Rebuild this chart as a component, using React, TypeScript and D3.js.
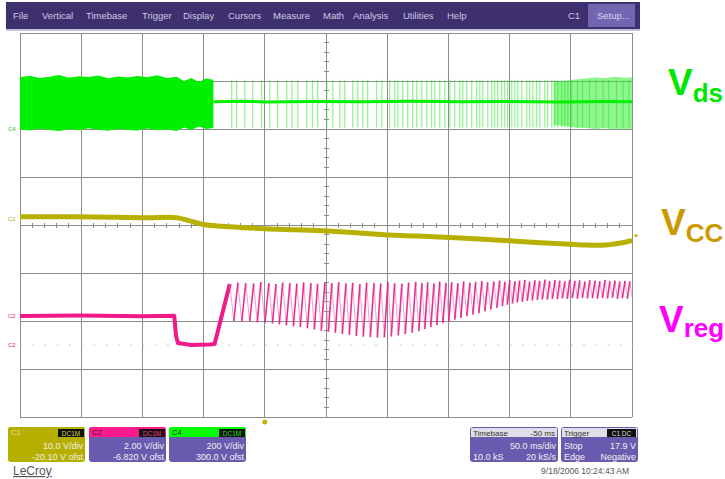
import React from "react";
import * as d3 from "d3";

// ---------- layout ----------
const W = 725;
const H = 479;
const PLOT = { left: 20, right: 632, top: 33, bottom: 417 };
const FONT = "'Liberation Sans', Arial, Helvetica, sans-serif";

// ---------- axes (scope settings) ----------
// time in ms, trigger at 0, 50 ms/div, delay -50 ms
const timeDomain = [-200, 300];
const timeGridTicks = [-200, -150, -100, -50, 0, 50, 100, 150, 200, 250, 300];
const divGridLevels = [0, 1, 2, 3, 4, 5, 6, 7, 8];

const vccVoltsPerDiv = 10;
const vccOffset = -20.1;
const vregVoltsPerDiv = 2;
const vregOffset = -6.82;
const vdsVoltsPerDiv = 200;
const vdsOffset = 300;

// ---------- Vcc (C1) ----------
const vccTime = [-200, -160, -120, -95, -80, -72, -62, -50, -38, -20, 0, 25, 51, 75, 102, 125, 151, 175, 200, 225, 249, 262, 274, 284, 292, 300];
const vccVolts = [21.8, 21.8, 21.7, 21.6, 21.7, 21.6, 21.0, 20.2, 19.9, 19.6, 19.3, 19.1, 18.85, 18.5, 18.0, 17.8, 17.5, 17.2, 16.8, 16.4, 16.1, 15.95, 15.9, 16.1, 16.4, 16.9];

// ---------- Vreg (C2) ----------
const vregLeadTime = [-200, -150, -100, -74, -72.5, -71, -60, -45, -41];
const vregLeadVolts = [3.03, 3.05, 3.02, 3.04, 2.2, 1.9, 1.82, 1.84, 1.86];
const vregPeakTime = [
  -28.6, -22.0, -15.6, -9.1, -3.2, 3.4, 9.1, 14.6, 20.5, 26.2,
  31.8, 37.7, 43.2, 49.1, 54.8, 60.4, 66.3, 71.8, 77.7, 83.2,
  89.2, 94.7, 100.6, 106.1, 112.0, 117.5, 123.3, 128.4, 133.1, 138.2,
  142.9, 148.0, 152.7, 157.8, 162.5, 167.6, 172.3, 177.4, 182.1, 187.2,
  191.9, 196.2, 200.1, 204.4, 208.2, 212.5, 216.4, 220.7, 224.6, 228.9,
  232.8, 237.1, 241.0, 245.2, 249.1, 253.4, 257.3, 261.6, 265.5, 269.8,
  273.7, 278.0, 281.9, 286.1, 290.0, 294.3, 298.2,
];
const vregPeakVolts = [
  4.36, 4.42, 4.40, 4.38, 4.44, 4.40, 4.36, 4.42, 4.40, 4.38,
  4.43, 4.40, 4.37, 4.42, 4.40, 4.44, 4.38, 4.41, 4.36, 4.42,
  4.40, 4.38, 4.44, 4.40, 4.37, 4.42, 4.45, 4.40, 4.43, 4.38,
  4.46, 4.41, 4.44, 4.40, 4.47, 4.42, 4.45, 4.48, 4.43, 4.46,
  4.50, 4.45, 4.52, 4.47, 4.50, 4.53, 4.46, 4.51, 4.49, 4.54,
  4.48, 4.52, 4.50, 4.47, 4.53, 4.49, 4.51, 4.46, 4.52, 4.50,
  4.48, 4.53, 4.47, 4.50, 4.46, 4.49, 4.47,
];
const vregTroughVolts = [
  2.82, 2.80, 2.79, 2.77, 2.75, 2.72, 2.68, 2.64, 2.60, 2.57,
  2.52, 2.47, 2.42, 2.37, 2.33, 2.28, 2.24, 2.20, 2.17, 2.15,
  2.13, 2.14, 2.18, 2.22, 2.28, 2.33, 2.40, 2.48, 2.57, 2.65,
  2.73, 2.80, 2.88, 2.95, 3.02, 3.09, 3.15, 3.22, 3.30, 3.37,
  3.44, 3.50, 3.55, 3.59, 3.62, 3.66, 3.68, 3.70, 3.72, 3.71,
  3.74, 3.73, 3.76, 3.74, 3.77, 3.75, 3.78, 3.76, 3.77, 3.75,
  3.78, 3.76, 3.79, 3.74, 3.77, 3.75, 3.76,
];

// ---------- Vds (C4) ----------
const vdsBandTime = [-200, -192, -184, -176, -168, -160, -152, -144, -136, -128, -120, -112, -104, -96, -88, -80, -72, -66, -60, -54, -48, -42];
const vdsBandHigh = [316, 322, 312, 318, 325, 314, 320, 317, 323, 311, 319, 315, 321, 316, 324, 313, 318, 300, 312, 296, 310, 305];
const vdsBandLow = [98, 94, 101, 96, 92, 99, 95, 103, 97, 93, 100, 96, 94, 102, 95, 98, 92, 106, 96, 110, 100, 104];
const vdsBaseTime = [-42, -20, 0, 40, 80, 120, 160, 200, 240, 280, 300];
const vdsBaseVolts = [214, 216, 213, 215, 214, 216, 214, 215, 213, 215, 214];
const vdsSpikeTime = [
  -27.0, -22.9, -16.3, -9.8, -2.5, 4.1, 10.6, 18.0, 22.1, 27.0,
  34.3, 39.2, 43.3, 50.7, 55.6, 61.3, 65.4, 71.9, 76.0, 80.1,
  84.1, 91.5, 95.6, 102.1, 106.2, 108.7, 112.7, 116.8, 120.9, 124.2,
  128.3, 132.4, 136.4, 138.9, 143.0, 147.1, 151.2, 155.2, 159.3, 161.8,
  165.0, 169.1, 173.2, 175.7, 178.1, 182.2, 185.5, 187.9, 190.4, 193.6,
  196.1, 198.5, 201.8, 204.3, 206.7, 210.0, 214.1, 216.5, 219.0, 222.2,
  224.7, 228.8, 231.2, 234.5, 236.9, 239.4, 242.6, 245.1, 247.6, 250.8,
  255.5, 259.6, 265.2, 270.6, 276.3, 281.0, 287.4, 292.8, 297.5,
];
const vdsSpikeHigh = 305;
const vdsSpikeLow = 106;
const vdsTailTime = [236, 245, 253, 262, 270, 278, 286, 294, 300];
const vdsTailHigh = [296, 300, 306, 310, 316, 312, 318, 314, 316];
const vdsTailLow = [118, 112, 106, 104, 100, 103, 98, 101, 99];

// ---------- UI text ----------
const menuItems = ["File", "Vertical", "Timebase", "Trigger", "Display", "Cursors", "Measure", "Math", "Analysis", "Utilities", "Help"];
const menuX = [13, 42, 86, 142, 183, 228, 273, 323, 353, 403, 447];

const chanBoxes = [
  { id: "C1", x: 8, head: "#b7af00", body: "#b7af00", tagText: "#d8d040", l1: "10.0 V/div", l2: "-20.10 V ofst" },
  { id: "C2", x: 89, head: "#ff1a8c", body: "#6a5bb0", tagText: "#ff3399", l1: "2.00 V/div", l2: "-6.820 V ofst" },
  { id: "C4", x: 169, head: "#00ff00", body: "#6a5bb0", tagText: "#22dd22", l1: "200 V/div", l2: "300.0 V ofst" },
];

export default function App() {
  const x = d3.scaleLinear().domain(timeDomain).range([PLOT.left, PLOT.right]);
  const yDiv = d3.scaleLinear().domain([0, 8]).range([PLOT.bottom, PLOT.top]);
  const chScale = (vpd: number, offset: number) => {
    const c = -offset;
    return d3.scaleLinear().domain([c - 4 * vpd, c + 4 * vpd]).range([PLOT.bottom, PLOT.top]);
  };
  const yVcc = chScale(vccVoltsPerDiv, vccOffset);
  const yVreg = chScale(vregVoltsPerDiv, vregOffset);
  const yVds = chScale(vdsVoltsPerDiv, vdsOffset);

  const cx = x(50);
  const cy = yDiv(4);

  const vccLine = d3
    .line<number>()
    .x((_, i) => x(vccTime[i]))
    .y((v) => yVcc(v))
    .curve(d3.curveMonotoneX)(vccVolts) as string;

  const leadPts: [number, number][] = vregLeadTime.map((t, i) => [x(t), yVreg(vregLeadVolts[i])]);
  leadPts.push([x(vregPeakTime[0]), yVreg(vregPeakVolts[0])]);
  const leadLine = d3.line()(leadPts) as string;

  const rises: string[] = [];
  const falls: string[] = [];
  for (let i = 0; i < vregPeakTime.length; i++) {
    const tp = vregPeakTime[i];
    const next = i + 1 < vregPeakTime.length ? vregPeakTime[i + 1] : tp + 4.2;
    const tTrough = tp + 0.5 * (next - tp);
    falls.push(`M${x(tp)},${yVreg(vregPeakVolts[i])}L${x(tTrough)},${yVreg(vregTroughVolts[i])}`);
    if (i + 1 < vregPeakTime.length) {
      rises.push(`M${x(tTrough)},${yVreg(vregTroughVolts[i])}L${x(next)},${yVreg(vregPeakVolts[i + 1])}`);
    }
  }

  const bandArea = d3
    .area<number>()
    .x((_, i) => x(vdsBandTime[i]))
    .y0((_, i) => yVds(vdsBandLow[i]))
    .y1((_, i) => yVds(vdsBandHigh[i]))(vdsBandTime) as string;
  const tailArea = d3
    .area<number>()
    .x((_, i) => x(vdsTailTime[i]))
    .y0((_, i) => yVds(vdsTailLow[i]))
    .y1((_, i) => yVds(vdsTailHigh[i]))
    .curve(d3.curveMonotoneX)(vdsTailTime) as string;
  const baseLine = d3
    .line<number>()
    .x((_, i) => x(vdsBaseTime[i]))
    .y((v) => yVds(v))(vdsBaseVolts) as string;

  const hTicks = d3.range(-200, 300.1, 10);
  const vTicks = d3.range(0, 8.01, 0.2);

  return (
    <svg
      width={W}
      height={H}
      viewBox={`0 0 ${W} ${H}`}
      style={{ position: "absolute", left: 0, top: 0, display: "block", background: "#fff" }}
      fontFamily={FONT}
    >
      <defs>
        <clipPath id="plotClip">
          <rect x={PLOT.left} y={PLOT.top} width={PLOT.right - PLOT.left} height={PLOT.bottom - PLOT.top} />
        </clipPath>
      </defs>
      <rect x={0} y={0} width={W} height={H} fill="#fff" />

      {/* menu bar */}
      <rect x={6} y={2} width={634} height={27} fill="#3e306f" />
      <line x1={6} x2={640} y1={30} y2={30} stroke="#c4c0d8" strokeWidth={2} />
      {menuItems.map((m, i) => (
        <text key={m} x={menuX[i]} y={19} fontSize={9.5} fill="#cdc8e6">
          {m}
        </text>
      ))}
      <text x={568} y={19} fontSize={9.5} fill="#cdc8e6">C1</text>
      <rect x={588} y={4} width={47} height={23} fill="#7266b0" />
      <text x={597} y={19} fontSize={9.5} fill="#d8d4f0">Setup...</text>

      {/* grid */}
      <g stroke="#8c8c8c" strokeWidth={1} shapeRendering="crispEdges">
        {timeGridTicks.map((t) => (
          <line key={"v" + t} x1={x(t)} x2={x(t)} y1={PLOT.top} y2={PLOT.bottom} />
        ))}
        {divGridLevels.map((d) => (
          <line key={"h" + d} x1={PLOT.left} x2={PLOT.right} y1={yDiv(d)} y2={yDiv(d)} />
        ))}
        {hTicks.map((t) => (
          <line key={"ht" + t} x1={x(t)} x2={x(t)} y1={cy - 2.5} y2={cy + 2.5} />
        ))}
        {vTicks.map((d) => (
          <line key={"vt" + d} x1={cx - 2.5} x2={cx + 2.5} y1={yDiv(d)} y2={yDiv(d)} />
        ))}
      </g>
      <g stroke="#c8c8c8" strokeWidth={1}>
        {hTicks.map((t) => (
          <line key={"rd" + t} x1={x(t)} x2={x(t) + 2} y1={yVreg(1.82)} y2={yVreg(1.82)} />
        ))}
      </g>

      {/* traces */}
      <g clipPath="url(#plotClip)">
        <path d={bandArea} fill="#00f000" />
        <path d={tailArea} fill="#33ee33" opacity={0.55} />
        <g stroke="#2ee82e" strokeWidth={1} opacity={0.65}>
          {vdsSpikeTime.map((t, i) => (
            <line key={"sp" + i} x1={x(t)} x2={x(t)} y1={yVds(vdsSpikeHigh)} y2={yVds(vdsSpikeLow)} />
          ))}
        </g>
        <path d={baseLine} fill="none" stroke="#00f000" strokeWidth={3} />

        <path d={vccLine} fill="none" stroke="#b8b000" strokeWidth={5} strokeLinejoin="round" />

        <path d={leadLine} fill="none" stroke="#ee1a8a" strokeWidth={4} strokeLinejoin="round" />
        <g stroke="#f27ab8" strokeWidth={1} opacity={0.7}>
          {falls.map((d, i) => (
            <path key={"f" + i} d={d} />
          ))}
        </g>
        <g stroke="#e8188a" strokeWidth={1.6} opacity={0.9}>
          {rises.map((d, i) => (
            <path key={"r" + i} d={d} />
          ))}
        </g>
      </g>

      {/* left channel markers */}
      <text x={8} y={yVds(100) + 2} fontSize={6} fill="#22cc22">C4</text>
      <text x={8} y={yVcc(21.8) + 4} fontSize={6} fill="#b0a800">C1</text>
      <text x={8} y={yVreg(3.03) + 2} fontSize={6} fill="#ee1a8a">C2</text>
      <text x={8} y={yVreg(1.82) + 2} fontSize={6} fill="#ee1a8a">C2</text>
      <circle cx={x(0)} cy={PLOT.bottom + 5} r={2.5} fill="#c8b400" />
      <circle cx={PLOT.right + 4} cy={yVcc(17.9)} r={1.6} fill="#c8b400" />

      {/* right labels */}
      <text x={668} y={95} fontSize={37} fontWeight="bold" fill="#00e600">
        V<tspan fontSize={26} dy={7}>ds</tspan>
      </text>
      <text x={661} y={235} fontSize={37} fontWeight="bold" fill="#cc9900">
        V<tspan fontSize={26} dy={7}>CC</tspan>
      </text>
      <text x={659} y={332} fontSize={37} fontWeight="bold" fill="#ff00ff">
        V<tspan fontSize={26} dy={5}>reg</tspan>
      </text>

      {/* channel boxes */}
      {chanBoxes.map((b) => (
        <g key={b.id}>
          <rect x={b.x} y={427} width={77} height={35} rx={3} fill={b.body} />
          <path d={`M${b.x + 3},427 h71 a3,3 0 0 1 3,3 v7 h-77 v-7 a3,3 0 0 1 3,-3z`} fill={b.head} />
          <text x={b.x + 3} y={435} fontSize={7.5} fill={b.id === "C1" ? "#e8e4a0" : "#222"}>{b.id}</text>
          <rect x={b.x + 50} y={429} width={26} height={8} fill="#111" />
          <text x={b.x + 63} y={435.5} fontSize={6.5} fill={b.tagText} textAnchor="middle">DC1M</text>
          <text x={b.x + 75} y={449} fontSize={9} fill="#f0f0f0" textAnchor="end">{b.l1}</text>
          <text x={b.x + 75} y={459.5} fontSize={9} fill="#f0f0f0" textAnchor="end">{b.l2}</text>
        </g>
      ))}
      <text x={13} y={475} fontSize={12} fill="#555" textDecoration="underline">LeCroy</text>

      {/* timebase box */}
      <rect x={470} y={427} width={88} height={35} rx={3} fill="#6a5bb0" />
      <rect x={471} y={428} width={86} height={9} fill="#e0dfe8" />
      <text x={473} y={435.5} fontSize={8} fill="#333">Timebase</text>
      <text x={555} y={435.5} fontSize={8} fill="#333" textAnchor="end">-50 ms</text>
      <text x={556} y={449} fontSize={9} fill="#f0f0f0" textAnchor="end">50.0 ms/div</text>
      <text x={473} y={459.5} fontSize={9} fill="#f0f0f0">10.0 kS</text>
      <text x={556} y={459.5} fontSize={9} fill="#f0f0f0" textAnchor="end">20 kS/s</text>

      {/* trigger box */}
      <rect x={561} y={427} width={77} height={35} rx={3} fill="#6a5bb0" />
      <rect x={562} y={428} width={75} height={9} fill="#e0dfe8" />
      <text x={564} y={435.5} fontSize={8} fill="#333">Trigger</text>
      <rect x={607} y={429} width={29} height={8} fill="#111" />
      <text x={621.5} y={435.5} fontSize={6.5} fill="#ddd" textAnchor="middle">C1 DC</text>
      <text x={564} y={449} fontSize={9} fill="#f0f0f0">Stop</text>
      <text x={636} y={449} fontSize={9} fill="#f0f0f0" textAnchor="end">17.9 V</text>
      <text x={564} y={459.5} fontSize={9} fill="#f0f0f0">Edge</text>
      <text x={636} y={459.5} fontSize={9} fill="#f0f0f0" textAnchor="end">Negative</text>

      <text x={629} y={474} fontSize={8.5} fill="#555" textAnchor="end">9/18/2006 10:24:43 AM</text>
    </svg>
  );
}
